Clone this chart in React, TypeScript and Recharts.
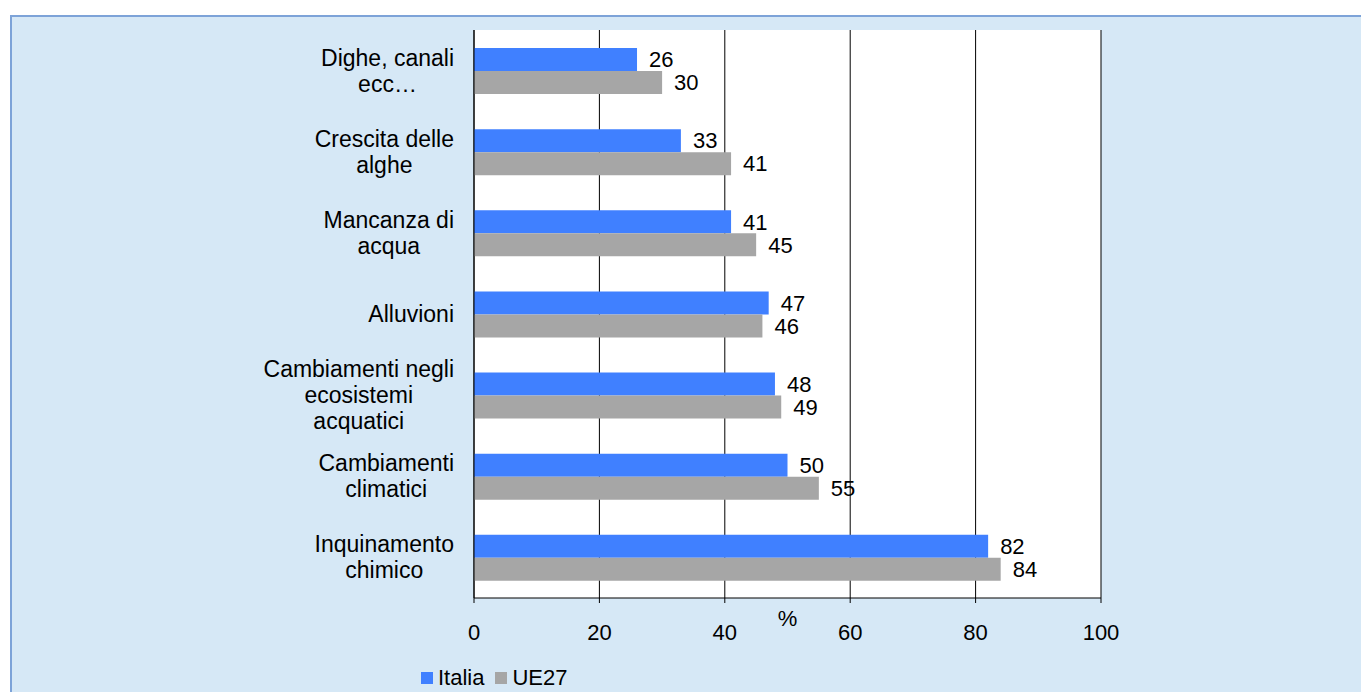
import React from 'react';
import { BarChart, Bar, XAxis, YAxis, CartesianGrid, LabelList } from 'recharts';

const categories = [
  'Dighe, canali\necc…',
  'Crescita delle\nalghe',
  'Mancanza di\nacqua',
  'Alluvioni',
  'Cambiamenti negli\necosistemi\nacquatici',
  'Cambiamenti\nclimatici',
  'Inquinamento\nchimico',
];
const italia = [26, 33, 41, 47, 48, 50, 82];
const ue27 = [30, 41, 45, 46, 49, 55, 84];
const xTicks = [0, 20, 40, 60, 80, 100];

const FONT = "'Liberation Sans', Arial, sans-serif";
const BLUE = '#4080ff';
const GRAY = '#a6a6a6';

const data = categories.map((name, i) => ({ name, Italia: italia[i], UE27: ue27[i] }));

let ctx: CanvasRenderingContext2D | null = null;
function textWidth(s: string) {
  if (!ctx) {
    ctx = document.createElement('canvas').getContext('2d');
    if (ctx) ctx.font = "23px 'Liberation Sans'";
  }
  return ctx ? ctx.measureText(s).width : s.length * 11.5;
}

function CategoryTick(props: any) {
  const { x, y, payload } = props;
  const lines = String(payload.value).split('\n');
  const maxW = Math.max(...lines.map(textWidth));
  const cx = x - maxW / 2;
  const lh = 26;
  const top = y - ((lines.length - 1) * lh) / 2;
  return (
    <text x={cx} y={top} textAnchor="middle" fontSize={23} fill="#000" fontFamily={FONT}>
      {lines.map((l, i) => (
        <tspan key={i} x={cx} y={top + i * lh} dy="0.35em">{l}</tspan>
      ))}
    </text>
  );
}

export default function App() {
  return (
    <div
      style={{
        position: 'fixed', left: 10, top: 15, right: 0, bottom: 0,
        background: '#d6e8f6', borderLeft: '2px solid #7da3d8', borderTop: '2px solid #7da3d8',
        fontFamily: FONT, overflow: 'hidden',
      }}
    >
      <BarChart
        width={1349}
        height={675}
        data={data}
        layout="vertical"
        margin={{ top: 13, right: 260, bottom: 34, left: 0 }}
        barGap={0}
        barSize={23}
      >
        <CartesianGrid horizontal={false} stroke="#000" fill="#fff" verticalValues={xTicks} />
        <XAxis
          type="number"
          domain={[0, 100]}
          ticks={xTicks}
          height={60}
          axisLine={{ stroke: '#000' }}
          tickLine={{ stroke: '#000' }}
          tickSize={5}
          tickMargin={21}
          tick={{ fill: '#000', fontSize: 22, fontFamily: FONT }}
          label={{ value: '%', position: 'insideTop', offset: 12, fill: '#000', fontSize: 22, fontFamily: FONT }}
        />
        <YAxis
          type="category"
          dataKey="name"
          width={462}
          axisLine={{ stroke: '#000' }}
          tickLine={false}
          tickSize={0}
          tickMargin={20}
          interval={0}
          tick={<CategoryTick />}
        />
        <Bar dataKey="Italia" fill={BLUE} isAnimationActive={false}>
          <LabelList dataKey="Italia" position="right" offset={12} fill="#000" fontSize={22} fontFamily={FONT} />
        </Bar>
        <Bar dataKey="UE27" fill={GRAY} isAnimationActive={false}>
          <LabelList dataKey="UE27" position="right" offset={12} fill="#000" fontSize={22} fontFamily={FONT} />
        </Bar>
      </BarChart>
      <div
        style={{
          position: 'absolute', left: 409, top: 649, display: 'flex', alignItems: 'center',
          fontSize: 22, lineHeight: '24px', color: '#000', whiteSpace: 'nowrap',
        }}
      >
        <span style={{ width: 12, height: 12, background: BLUE, display: 'inline-block', marginRight: 5 }} />
        <span style={{ marginRight: 11 }}>Italia</span>
        <span style={{ width: 12, height: 12, background: GRAY, display: 'inline-block', marginRight: 5 }} />
        <span>UE27</span>
      </div>
    </div>
  );
}
